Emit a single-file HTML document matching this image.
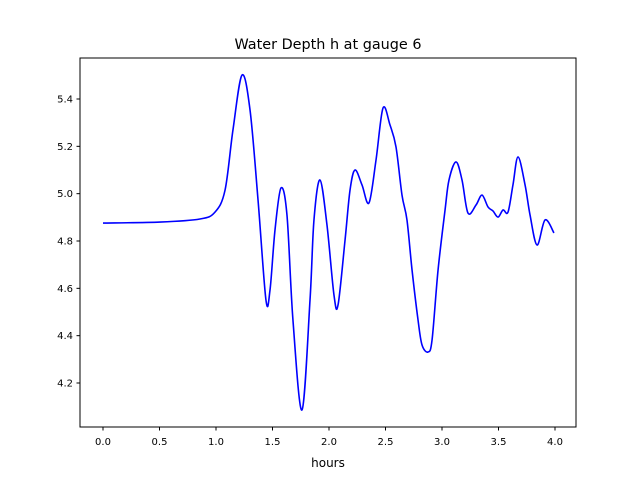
<!DOCTYPE html>
<html><head><meta charset="utf-8"><style>
body{margin:0;background:#fff;}
svg{display:block;font-family:"DejaVu Sans","Liberation Sans",sans-serif;}
</style></head><body>
<svg id="chart" width="640" height="480">
<rect x="0" y="0" width="640" height="480" fill="#fff"/>
<text x="328" y="49" font-size="14.4" text-anchor="middle">Water Depth h at gauge 6</text>
<g id="plot"></g>
<rect x="80" y="58" width="496" height="369" fill="none" stroke="#000" stroke-width="1"/>
<text x="328" y="467" font-size="12" text-anchor="middle">hours</text>
</svg>
<script>
const hours=[0,0.504,0.858,0.991,1.080,1.150,1.230,1.301,1.372,1.442,1.478,1.522,1.575,1.628,1.681,1.761,1.832,1.867,1.920,1.982,2.044,2.080,2.142,2.186,2.230,2.292,2.354,2.416,2.478,2.540,2.593,2.646,2.690,2.735,2.788,2.823,2.876,2.912,2.965,3.027,3.062,3.124,3.177,3.230,3.301,3.354,3.407,3.451,3.496,3.540,3.584,3.628,3.673,3.735,3.779,3.841,3.912,3.991];
const depth=[4.876,4.880,4.893,4.922,5.015,5.269,5.501,5.354,4.973,4.551,4.593,4.846,5.024,4.910,4.466,4.086,4.551,4.889,5.058,4.868,4.572,4.530,4.804,5.015,5.100,5.037,4.961,5.142,5.362,5.290,5.197,4.994,4.889,4.677,4.466,4.361,4.331,4.382,4.677,4.931,5.058,5.134,5.058,4.918,4.952,4.994,4.944,4.927,4.901,4.931,4.922,5.037,5.155,5.037,4.910,4.783,4.889,4.834];
const xTicks=[0,0.5,1.0,1.5,2.0,2.5,3.0,3.5,4.0];
const yTicks=[4.2,4.4,4.6,4.8,5.0,5.2,5.4];
const NS='http://www.w3.org/2000/svg';
const g=document.getElementById('plot');
const X=t=>103+t*113;
const Y=v=>99+(5.4-v)*236.67;
function mk(tag,attrs){const e=document.createElementNS(NS,tag);for(const k in attrs)e.setAttribute(k,attrs[k]);g.appendChild(e);return e;}
xTicks.forEach(t=>{
  const l=mk('line',{x1:X(t),x2:X(t),y1:427,y2:430.5,stroke:'#000'});
  
  
  const tx=mk('text',{x:X(t),y:445,'font-size':10,'text-anchor':'middle'});
  tx.textContent=t.toFixed(1);
  
  
});
yTicks.forEach(v=>{
  const l=mk('line',{x1:76.5,x2:80,y1:Y(v),y2:Y(v),stroke:'#000'});
  
  
  const tx=mk('text',{x:73,y:Y(v)+3.5,'font-size':10,'text-anchor':'end'});
  tx.textContent=v.toFixed(1);
  
  
});
const P=hours.map((t,i)=>[X(t),Y(depth[i])]);
let d='M'+P[0][0]+','+P[0][1];
for(let i=0;i<P.length-1;i++){
  const p0=P[Math.max(0,i-1)],p1=P[i],p2=P[i+1],p3=P[Math.min(P.length-1,i+2)];
  const c1=[p1[0]+(p2[0]-p0[0])/6,p1[1]+(p2[1]-p0[1])/6];
  const c2=[p2[0]-(p3[0]-p1[0])/6,p2[1]-(p3[1]-p1[1])/6];
  d+=` C${c1[0]},${c1[1]} ${c2[0]},${c2[1]} ${p2[0]},${p2[1]}`;
}
const line=mk('path',{d:d,fill:'none',stroke:'#0000ff','stroke-width':1.6});


</script>
</body></html>
